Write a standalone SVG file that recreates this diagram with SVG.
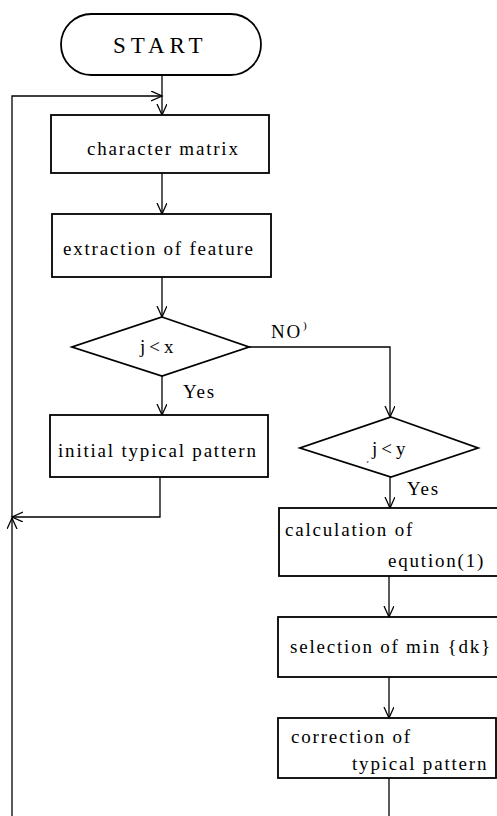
<svg xmlns="http://www.w3.org/2000/svg" width="497" height="816" viewBox="0 0 497 816">
<defs>
<marker id="arr" markerWidth="14" markerHeight="14" refX="11" refY="5" orient="auto" markerUnits="userSpaceOnUse">
<path d="M0,0 L11,5 L0,10" fill="none" stroke="#000" stroke-width="1.3"/>
</marker>
<style>
.box{fill:#fff;stroke:#000;stroke-width:1.8}
.ln{fill:none;stroke:#000;stroke-width:1.3}
.t{font-family:"Liberation Serif","Times New Roman",serif;font-size:19px;letter-spacing:1.8px;fill:#000}
.d{letter-spacing:4px}
</style>
</defs>
<rect width="497" height="816" fill="#fff"/>
<g id="connectors">
<path class="ln" d="M162,75 V115" marker-end="url(#arr)"/>
<path class="ln" d="M12,517 V96 H162" marker-end="url(#arr)"/>
<path class="ln" d="M162,173 V214" marker-end="url(#arr)"/>
<path class="ln" d="M162,277 V317" marker-end="url(#arr)"/>
<path class="ln" d="M162,376 V415" marker-end="url(#arr)"/>
<path class="ln" d="M160,477 V517 H12" marker-end="url(#arr)"/>
<path class="ln" d="M12,816 V518" marker-end="url(#arr)"/>
<path class="ln" d="M249,347 H390 V417" marker-end="url(#arr)"/>
<path class="ln" d="M390,477 V508" marker-end="url(#arr)"/>
<path class="ln" d="M389,576 V617" marker-end="url(#arr)"/>
<path class="ln" d="M389,677 V718" marker-end="url(#arr)"/>
<path class="ln" d="M389,778 V816"/>
<text class="t" x="271" y="338">NO</text>
<text class="t" x="303" y="329" style="font-size:11px">)</text>
<text class="t" x="183" y="398">Yes</text>
<text class="t" x="407" y="495">Yes</text>
</g>
<g id="start">
<rect class="box" x="61" y="14" width="200" height="61" rx="30.5" ry="30.5"/>
<text class="t" x="113" y="53" style="font-size:23px;letter-spacing:5px">START</text>
</g>
<g id="character-matrix">
<rect class="box" x="51" y="115" width="218" height="58"/>
<text class="t" x="87" y="155">character matrix</text>
</g>
<g id="extraction">
<rect class="box" x="52" y="214" width="219" height="63"/>
<text class="t" x="63" y="255">extraction of feature</text>
</g>
<g id="decision-x">
<polygon class="box" points="162,317 249,347 162,376 72,347"/>
<text class="t d" x="140" y="353">j&lt;x</text>
</g>
<g id="initial-pattern">
<rect class="box" x="50" y="415" width="218" height="62"/>
<text class="t" x="58" y="457">initial typical  pattern</text>
</g>
<g id="decision-y">
<polygon class="box" points="391,417 478,448 391,477 300,448"/>
<text class="t" x="366" y="461" style="font-size:9px">¸</text>
<text class="t d" x="372" y="455">j&lt;y</text>
</g>
<g id="calculation">
<rect class="box" x="279" y="508" width="222" height="68"/>
<text class="t" x="285" y="536">calculation of</text>
<text class="t" x="388" y="567">eqution(1)</text>
</g>
<g id="selection">
<rect class="box" x="278" y="617" width="223" height="60"/>
<text class="t" x="290" y="653">selection of</text>
<text class="t" x="406" y="653">min {dk}</text>
</g>
<g id="correction">
<rect class="box" x="278" y="718" width="218" height="60"/>
<text class="t" x="291" y="743">correction of</text>
<text class="t" x="352" y="770">typical pattern</text>
</g>
</svg>
